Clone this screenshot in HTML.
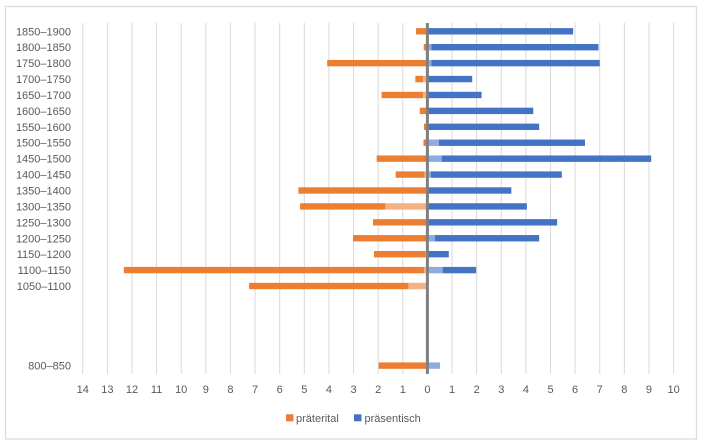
<!DOCTYPE html>
<html lang="de">
<head>
<meta charset="utf-8">
<title>Präterital und präsentisch</title>
<style>
html,body{margin:0;padding:0;background:#fff;width:701px;height:446px;overflow:hidden}
svg{display:block}
text{font-family:"Liberation Sans",sans-serif;font-size:11px;fill:#595959}
</style>
</head>
<body>
<svg id="chart" xmlns="http://www.w3.org/2000/svg" width="701" height="446" viewBox="0 0 701 446">
  <rect x="0" y="0" width="701" height="446" fill="#fff"/>
  <rect x="5.5" y="6.5" width="691" height="432.5" fill="#fff" stroke="#dcdcdc" stroke-width="1.3"/>
  <g id="grid"></g>
  <g id="bars"></g>
  <g id="axis"></g>
  <g>
    <rect x="286" y="414.3" width="7.5" height="7" fill="#ed7d31"/>
    <text x="296" y="422">präterital</text>
    <rect x="354" y="414.3" width="7.5" height="7" fill="#4472c4"/>
    <text x="364.5" y="422">präsentisch</text>
  </g>
</svg>
<script>
const categories = ['1850–1900','1800–1850','1750–1800','1700–1750','1650–1700','1600–1650','1550–1600','1500–1550','1450–1500','1400–1450','1350–1400','1300–1350','1250–1300','1200–1250','1150–1200','1100–1150','1050–1100','','','','','800–850'];
const praeteritalLight = [0,0,0,0.18,0.18,0,0,0,0,0.12,0,1.71,0,0,0.08,0.14,0.77,0,0,0,0,0];
const praeteritalTotal = [0.46,0.15,4.07,0.49,1.86,0.31,0.14,0.16,2.06,1.29,5.24,5.17,2.21,3.02,2.17,12.33,7.24,0,0,0,0,1.98];
const praesentischLight = [0,0.16,0.16,0,0,0,0,0.47,0.58,0.14,0,0,0,0.31,0,0.62,0,0,0,0,0,0.51];
const praesentischTotal = [5.92,6.95,7.0,1.82,2.2,4.3,4.54,6.4,9.09,5.46,3.41,4.04,5.27,4.54,0.87,1.98,0,0,0,0,0,0.51];
const tickValues = [-14,-13,-12,-11,-10,-9,-8,-7,-6,-5,-4,-3,-2,-1,0,1,2,3,4,5,6,7,8,9,10];

const NS = 'http://www.w3.org/2000/svg';
const xScale = v => 427.4 + v * 24.62;
const yScale = i => 31.3 + i * 15.92;
const BAR_H = 6.4, PLOT_TOP = 23, PLOT_BOTTOM = 374;

function make(parent, tag, attrs) {
  const el = document.createElementNS(NS, tag);
  for (const k in attrs) el.setAttribute(k, attrs[k]);
  parent.appendChild(el);
  return el;
}
function bar(from, to, i, fill, name) {
  if (from === to) return;
  const x0 = xScale(Math.min(from, to)), x1 = xScale(Math.max(from, to));
  const el = make(document.getElementById('bars'), 'rect', {x: x0, y: yScale(i) - BAR_H / 2, width: x1 - x0, height: BAR_H, fill: fill});
  
  
}

const grid = document.getElementById('grid');
const axis = document.getElementById('axis');
tickValues.forEach(v => {
  if (v !== 0) {
    const line = make(grid, 'line', {x1: xScale(v), x2: xScale(v), y1: PLOT_TOP, y2: PLOT_BOTTOM, stroke: '#d9d9d9', 'stroke-width': 1});
    
    
  }
  const label = make(axis, 'text', {x: xScale(v), y: 393, 'text-anchor': 'middle'});
  label.textContent = Math.abs(v);
  
  
});

categories.forEach((c, i) => {
  if (c) {
    const label = make(axis, 'text', {x: 71, y: yScale(i) + 4, 'text-anchor': 'end'});
    label.textContent = c;
    
    
  }
  bar(-praeteritalLight[i], 0, i, '#f4b183', 'bar-praeterital-light');
  bar(-praeteritalTotal[i], -praeteritalLight[i], i, '#ed7d31', 'bar-praeterital');
  bar(0, praesentischLight[i], i, '#8faadc', 'bar-praesentisch-light');
  bar(praesentischLight[i], praesentischTotal[i], i, '#4472c4', 'bar-praesentisch');
});

const zero = make(axis, 'line', {x1: xScale(0), x2: xScale(0), y1: PLOT_TOP, y2: PLOT_BOTTOM, stroke: '#7f7f7f', 'stroke-width': 3});


</script>
</body>
</html>
